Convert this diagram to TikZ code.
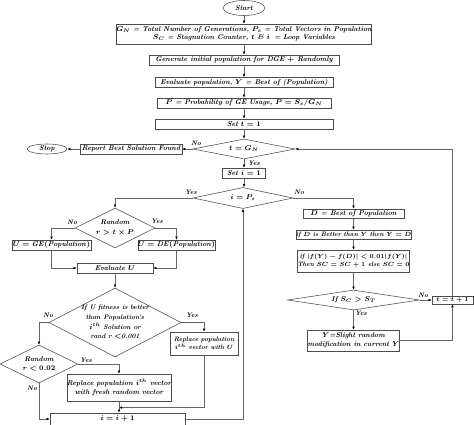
\documentclass[tikz,border=0pt]{standalone}
\usetikzlibrary{shapes.geometric,arrows.meta,calc}
\newcommand\mytxt{\fontsize{7}{9.2}\selectfont\bfseries\itshape\boldmath}
\newcommand\mysmall{\fontsize{6.4}{8.6}\selectfont\bfseries\itshape\boldmath}
\newcommand\mylab{\fontsize{6.6}{8}\selectfont\bfseries\itshape}
\begin{document}
\begin{tikzpicture}[x=1pt,y=-1pt,
  box/.style={draw=black!70, line width=0.55pt, inner sep=0pt, align=center, font=\mytxt, fill=white},
  dia/.style={diamond, draw=black!70, line width=0.55pt, inner sep=0pt},
  oval/.style={ellipse, draw=black!70, line width=0.55pt, inner sep=0pt, font=\mytxt},
  conn/.style={draw=black!60, line width=0.65pt, -{Latex[length=3.2pt,width=2.8pt,color=black]}},
  lab/.style={font=\mylab, inner sep=0pt},
  txt/.style={font=\mytxt, align=center, inner sep=0pt}]
\useasboundingbox (0,0) rectangle (474,425);
\fill[white] (0,0) rectangle (474,425);
% main column
\node[oval, minimum width=42pt, minimum height=15pt] (start) at (244,8) {Start};
\node[box, minimum width=250pt, minimum height=20pt] (top) at (244,34)
  {$G_N$ = Total Number of Generations, $P_s$ = Total Vectors in Population\\[-1.5pt]
   $S_C$ = Stagnation Counter, $t$ \& $i$\, = Loop Variables};
\node[box, minimum width=190pt, minimum height=10pt] (gen) at (244,60) {Generate initial population for DGE $+$ Randomly};
\node[box, minimum width=178pt, minimum height=10pt] (evalpop) at (244,82.5) {Evaluate population, $Y$ = Best of (Population)};
\node[box, minimum width=174pt, minimum height=10pt] (pbox) at (244,103) {$P$ = Probability of GE Usage, $P = S_s/G_N$};
\node[box, minimum width=178pt, minimum height=10pt] (sett) at (244,124) {Set $t = 1$};
\node[dia, minimum width=102pt, minimum height=20pt] (dt) at (244,149) {};
\node[txt] at (dt) {$t = G_N$};
\node[box, minimum width=102pt, minimum height=10pt] (report) at (131,149) {Report Best Solution Found};
\node[oval, minimum width=40pt, minimum height=10pt] (stop) at (47,149) {Stop};
\node[box, minimum width=43pt, minimum height=10pt] (seti) at (244,173) {Set $i = 1$};
\node[dia, minimum width=100pt, minimum height=21pt] (di) at (243,198) {};
\node[txt] at (di) {$i = P_s$};
% left branch
\node[dia, minimum width=80pt, minimum height=40pt] (dr) at (115,228) {};
\node[txt] at (dr) {Random\\[0.5pt] $r > t \times P$};
\node[box, minimum width=79pt, minimum height=10pt] (uge) at (51.5,245) {$U = \mathit{GE}(\mathit{Population})$};
\node[box, minimum width=77pt, minimum height=10pt] (ude) at (176.5,245) {$U = \mathit{DE}(\mathit{Population})$};
\node[box, minimum width=76pt, minimum height=10pt] (evu) at (115,268) {Evaluate $U$};
\node[dia, minimum width=132pt, minimum height=69pt] (dbig) at (115,322.5) {};
\node[txt, font=\fontsize{6.6}{9.6}\selectfont\bfseries\itshape\boldmath] at (dbig) {If U fitness is better\\ than Population's\\ $i^{th}$ Solution or\\ rand r {$<$}0.001};
\node[dia, minimum width=78pt, minimum height=38pt] (dr2) at (39,364) {};
\node[txt] at (dr2) {Random\\[0.5pt] $r < 0.02$};
\node[box, minimum width=102pt, minimum height=27pt] (fresh) at (119,387.5) {Replace population $i^{th}$ vector\\ with fresh random vector};
\node[box, minimum width=68pt, minimum height=23pt, font=\mysmall] (repu) at (204,343.5) {Replace population\\ $i^{th}$ vector with $U$};
\node[box, minimum width=135pt, minimum height=12pt] (inc) at (117.5,419) {$i = i + 1$};
% right branch
\node[box, minimum width=101pt, minimum height=9pt] (dbox) at (353.5,213.5) {$D$ = Best of Population};
\node[box, minimum width=101pt, minimum height=9pt, font=\mysmall] (better) at (353.5,234.5) {if $D$ is Better than $Y$ then $Y = D$};
\node[box, minimum width=101pt, minimum height=22pt, font=\mysmall] (fbox) at (353.5,261) {if $|f(Y) - f(D)| < 0.01|f(Y)|$\\ Then $SC = SC + 1$ else $SC = 0$};
\node[dia, minimum width=132pt, minimum height=20pt] (dsc) at (353.5,300) {};
\node[txt] at (dsc) {If $S_C > S_T$};
\node[box, minimum width=41pt, minimum height=8pt, font=\mysmall] (tinc) at (452.5,300) {$t = t + 1$};
\node[box, minimum width=91pt, minimum height=21pt] (ybox) at (353.5,340.5) {$Y$=Slight random\\ modification in current $Y$};
% connectors
\draw[conn] (start) -- (top);
\draw[conn] (top) -- (gen);
\draw[conn] (gen) -- (evalpop);
\draw[conn] (evalpop) -- (pbox);
\draw[conn] (pbox) -- (sett);
\draw[conn] (sett) -- (dt);
\draw[conn] (dt.west) -- (report.east);
\draw[conn] (report.west) -- (stop.east);
\draw[conn] (dt.south) -- (seti.north);
\draw[conn] (seti.south) -- (seti.south |- di.north);
\draw[conn] (di.west) -| (dr.north);
\draw[conn] (di.east) -| (dbox.north);
\draw[conn] (dr.west) -| (uge.north);
\draw[conn] (dr.east) -| (ude.north);
\draw[conn] (uge.south) |- (evu.west);
\draw[conn] (ude.south) |- (evu.east);
\draw[conn] (evu.south) -- (dbig.north);
\draw[conn] (dbig.west) -| (dr2.north);
\draw[conn] (dbig.east) -| (repu.north);
\draw[conn] (dr2.east) -| (fresh.north);
\draw[conn] (dr2.south) |- (inc.west);
\draw[conn] (fresh.south) -- (fresh.south |- inc.north);
\coordinate (mid) at ($(fresh.south)!0.55!(fresh.south |- inc.north)$);
\draw[conn] (repu.south) |- (mid);
\draw[conn] (inc.east) -| (di.south);
\draw[conn] (dbox) -- (better);
\draw[conn] (better) -- (fbox);
\draw[conn] (fbox.south) -- (dsc.north);
\draw[conn] (dsc.east) -- (tinc.west);
\draw[conn] (dsc.south) -- (ybox.north);
\draw[conn] (ybox.east) -| (tinc.south);
\draw[conn] (tinc.north) |- (dt.east);
% labels
\node[lab] at (196,143) {No};
\node[lab] at (254,163) {Yes};
\node[lab] at (191,192) {Yes};
\node[lab] at (299,192.5) {No};
\node[lab] at (72,222) {No};
\node[lab] at (157,221) {Yes};
\node[lab] at (48,315) {No};
\node[lab] at (192,315) {Yes};
\node[lab] at (86,360) {Yes};
\node[lab] at (32,388) {No};
\node[lab] at (423,295) {No};
\node[lab] at (361,313) {Yes};
\end{tikzpicture}
\end{document}
